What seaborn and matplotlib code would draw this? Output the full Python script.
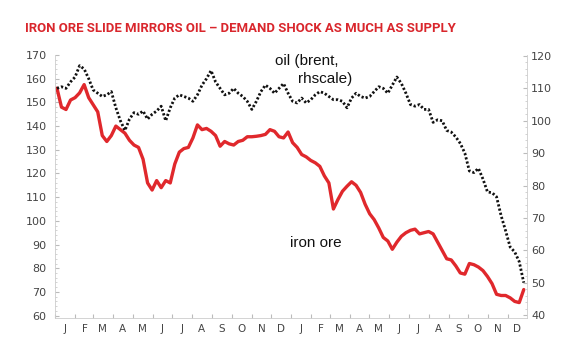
import matplotlib
matplotlib.use("Agg")
import matplotlib.pyplot as plt
import matplotlib.dates as mdates
from matplotlib.ticker import MultipleLocator, NullFormatter
import seaborn as sns
import pandas as pd

# weekly readings, Jan 2013 - Dec 2014
iron_ore = [156, 148, 147, 151, 152, 154, 157.5, 152, 149, 146,
            136, 133.5, 136, 140, 138.5, 137, 134, 132, 131, 126,
            116, 113, 117, 114, 117, 116, 124, 129, 130.5, 131,
            135, 140.5, 138.5, 139, 137.8, 136, 131.5, 133.5, 132.5, 132,
            133.5, 134, 135.5, 135.5, 135.7, 136, 136.5, 138.5, 137.8, 135.5,
            135, 137.5, 133, 131, 128, 127, 125.5, 124.5, 123, 119,
            116, 105, 109, 112.5, 114.6, 116.5, 115, 112, 107, 103,
            100.5, 97, 93, 91.5, 88, 91, 93.5, 95, 96, 96.5,
            94.5, 95, 95.5, 94.5, 91, 87.5, 84, 83.5, 81, 78,
            77.5, 82, 81.5, 80.5, 79, 76.5, 73.5, 69, 68.5, 68.5,
            67.5, 66, 65.5, 71]

brent = [110, 110.5, 110, 112, 113.5, 117, 116, 113, 109.5, 108.5,
         107.5, 108, 109, 104, 100, 97, 100.5, 102.5, 102, 103,
         100.5, 102, 103, 104.5, 100, 104, 107, 108, 107.5, 107,
         106, 108, 111, 113, 115.5, 112, 110, 108, 108.5, 110,
         108.5, 107.5, 106, 103.5, 106, 109, 111, 110, 108.5, 110,
         111.5, 108.5, 106, 105.5, 107, 105.5, 106.5, 108, 109, 108.5,
         107.5, 106.5, 106.5, 106, 104, 107, 108.5, 107.5, 107, 107.5,
         109, 110.5, 110, 108.5, 111, 113.5, 111.5, 108.5, 105, 104.5,
         105, 103.5, 103.5, 99.5, 100.3, 100, 97, 96.5, 95, 93,
         90, 84.5, 84, 85.3, 82, 78, 77.8, 76.5, 70.7, 66,
         61, 59.5, 56.5, 50]

month_labels = list("JFMAMJJASOND") * 2

dates = pd.date_range("2013-01-04", periods=len(iron_ore), freq="7D")
df = pd.DataFrame({"date": dates, "iron_ore": iron_ore, "brent": brent})

sns.set_style("white")
plt.rcParams["font.family"] = ["DejaVu Sans"]

fig = plt.figure(figsize=(5.86, 3.54), dpi=100)
ax = fig.add_axes([55 / 586, 1 - 318 / 354, 472 / 586, 263 / 354])
ax2 = ax.twinx()

sns.lineplot(data=df, x="date", y="iron_ore", ax=ax, color="#e0282c", lw=2.4)
sns.lineplot(data=df, x="date", y="brent", ax=ax2, color="#111111", lw=2.0)
oil_line = ax2.lines[0]
oil_line.set_linestyle((0, (0.8, 0.75)))
oil_line.set_dash_capstyle("butt")

ax.set_xlim(pd.Timestamp("2013-01-01"), pd.Timestamp("2014-12-31"))
ax.set_ylim(59, 170)
ax2.set_ylim(39.1, 120.3)

ax.yaxis.set_major_locator(MultipleLocator(10))
ax.yaxis.set_minor_locator(MultipleLocator(2))
ax2.yaxis.set_major_locator(MultipleLocator(10))
ax2.yaxis.set_minor_locator(MultipleLocator(2))

ax.xaxis.set_major_locator(mdates.MonthLocator())
ax.xaxis.set_major_formatter(NullFormatter())
mids = pd.date_range("2013-01-01", periods=24, freq="MS") + pd.Timedelta(days=15)
ax.set_xticks(mids, minor=True)
ax.set_xticklabels(month_labels, minor=True)

for a in (ax, ax2):
    a.spines["top"].set_visible(False)
    for s in ("left", "right", "bottom"):
        a.spines[s].set_color("#cccccc")
        a.spines[s].set_linewidth(0.6)
ax.spines["right"].set_visible(False)
ax2.spines["left"].set_visible(False)
ax2.spines["bottom"].set_visible(False)

ax.tick_params(axis="y", which="major", direction="in", length=3, color="#bbbbbb",
               labelsize=8, labelcolor="#444444", pad=6, left=True)
ax.tick_params(axis="y", which="minor", direction="in", length=1.5, color="#cccccc",
               left=True)
ax2.tick_params(axis="y", which="major", direction="in", length=3, color="#bbbbbb",
                labelsize=8, labelcolor="#444444", pad=3, right=True)
ax2.tick_params(axis="y", which="minor", direction="in", length=1.5, color="#cccccc",
                right=True)
ax.tick_params(axis="x", which="major", direction="in", length=3, color="#bbbbbb",
               bottom=True)
ax.tick_params(axis="x", which="minor", length=0, labelsize=7.5,
               labelcolor="#444444", pad=4)

ax.set_xlabel("")
ax.set_ylabel("")
ax2.set_ylabel("")
ax.grid(False)
ax2.grid(False)

title = fig.text(25 / 586, 1 - 29 / 354,
                 "IRON ORE SLIDE MIRRORS OIL \u2013 DEMAND SHOCK AS MUCH AS SUPPLY",
                 color="#d9262c", fontsize=10.5, fontweight="bold",
                 family=["Roboto", "DejaVu Sans"], va="center", ha="left")
# shrink the title to the width it has in the original (~430 px)
renderer = fig.canvas.get_renderer()
w = title.get_window_extent(renderer).width
title.set_fontsize(10.5 * 430 / w)

fig.text(275 / 586, 1 - 61 / 354, "oil (brent,", fontsize=11, color="#111111",
         family=["Liberation Sans", "DejaVu Sans"], va="center", ha="left")
fig.text(298 / 586, 1 - 79 / 354, "rhscale)", fontsize=11, color="#111111",
         family=["Liberation Sans", "DejaVu Sans"], va="center", ha="left")
fig.text(290 / 586, 1 - 243 / 354, "iron ore", fontsize=11, color="#111111",
         family=["Liberation Sans", "DejaVu Sans"], va="center", ha="left")

fig.savefig("out.png", dpi=100)
